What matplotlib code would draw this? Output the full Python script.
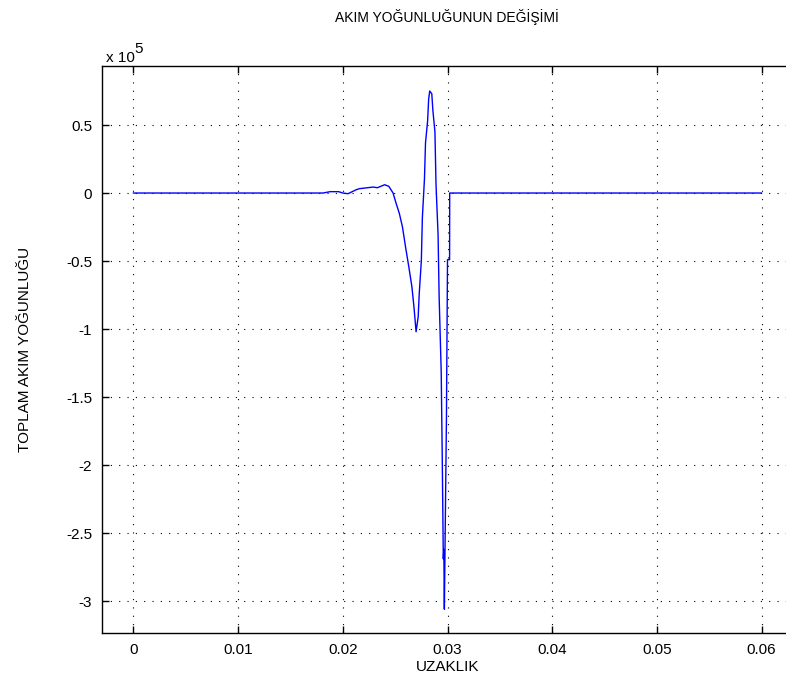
import matplotlib.pyplot as plt
import numpy as np

plt.rcParams['font.family'] = ['Liberation Sans', 'DejaVu Sans']

# position along the line and total current density
uzaklik = [0.0, 0.0181, 0.0188, 0.0196, 0.0200, 0.0205, 0.0213, 0.0216, 0.0229,
           0.0233, 0.0240, 0.0244, 0.0248, 0.0251, 0.0254, 0.0257, 0.0260,
           0.0263, 0.0266, 0.0268, 0.0270, 0.0272, 0.0273, 0.0275, 0.0276,
           0.0278, 0.0279, 0.0281, 0.0282, 0.0283, 0.0285, 0.0286, 0.0288,
           0.0289, 0.0291, 0.0292, 0.0294, 0.0295, 0.0296, 0.02965, 0.0297,
           0.0299, 0.0300, 0.0302, 0.03021, 0.06]
akim = [0, 0, 1000, 1000, 0, -500, 2500, 3200, 4400,
        3900, 6100, 4900, 0, -7800, -15000, -25000, -40000,
        -54000, -69000, -84000, -102000, -91000, -74000, -50000, -18000,
        10500, 37000, 53000, 69000, 75000, 73000, 61000, 45000,
        7000, -31000, -76000, -132000, -196000, -269000, -262000, -306000,
        -165000, -49000, -49000, 0, 0]

xticks = [0, 0.01, 0.02, 0.03, 0.04, 0.05, 0.06]
yticks = [-3, -2.5, -2, -1.5, -1, -0.5, 0, 0.5]

fig = plt.figure(figsize=(7.86, 6.88), dpi=100)
ax = fig.add_axes([102/786, 55/688, 691/786, 567/688])

ax.plot(uzaklik, np.array(akim) / 1e5, color='#0000ff', linewidth=1)

ax.set_xlim(-0.003, 0.063)
ax.set_ylim(-3.235, 0.934)
ax.set_xticks(xticks)
ax.set_xticklabels([f"{t:g}" for t in xticks])
ax.set_yticks(yticks)
ax.set_yticklabels([f"{t:g}" for t in yticks])
ax.tick_params(direction='in', length=5, top=True, right=True, labelsize=11, width=1, pad=7)
ax.grid(True, color='black', linestyle=(0, (1, 6.5)), linewidth=0.8)
for s in ax.spines.values():
    s.set_linewidth(1)

# exponent label, MATLAB style
fig.text(106/786, 1 - 62/688, "x 10", fontsize=11, va='baseline', ha='left')
fig.text(134/786, 1 - 53/688, "5", fontsize=11, va='baseline', ha='left')

fig.text(447/786, 1 - 17/688, "AKIM YOĞUNLUĞUNUN DEĞİŞİMİ", ha='center', va='center', fontsize=10)
ax.set_xlabel("UZAKLIK", fontsize=11, va='top')
ax.xaxis.set_label_coords(0.5, -(660 - 633) / 567)
ax.set_ylabel("TOPLAM AKIM YOĞUNLUĞU", fontsize=11)
ax.yaxis.set_label_coords((32 - 102) / 691, 0.5)

fig.savefig("out.png", dpi=100)
